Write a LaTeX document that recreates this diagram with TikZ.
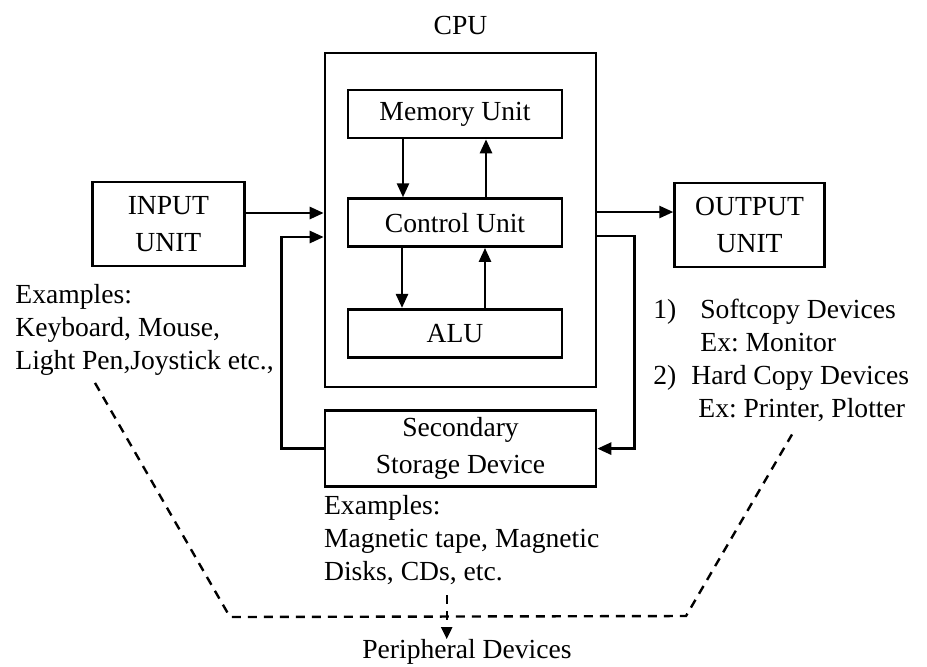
\documentclass[tikz,border=0pt]{standalone}
\usepackage{fontspec}
\setmainfont{Liberation Serif}
\usetikzlibrary{positioning,arrows.meta}
\frenchspacing

\begin{document}
\begin{tikzpicture}[
    x=0.5pt, y=-0.5pt,
    font=\fontsize{13.8}{16.5}\selectfont,
    unit/.style={draw, rectangle, line width=1.3pt, inner sep=2pt, align=center, font=\fontsize{13.8}{18.5}\selectfont},
    inner/.style={unit, minimum width=107pt, minimum height=24pt},
    txt/.style={inner sep=0pt, align=left},
    arr/.style={-{Triangle[length=7pt,width=6pt]}, line width=1.3pt},
    periline/.style={dash pattern=on 4.5pt off 3.5pt, line width=1.2pt}
]
    \useasboundingbox (0,0) rectangle (927,666);

    % CPU and its units
    \node[unit, minimum width=135.5pt, minimum height=167pt] (cpu) at (460.5,220) {};
    \node[txt, above=8.5pt of cpu] (cpulabel) {CPU};
    \node[inner] (memory) at (455,114) {Memory Unit};
    \node[inner, below=29pt of memory] (control) {Control Unit};
    \node[inner, below=30pt of control] (alu) {ALU};

    % Input, output, storage
    \node[unit, minimum width=76pt, minimum height=42pt, left=39pt of cpu, yshift=-2pt] (input) {INPUT\\UNIT};
    \node[unit, minimum width=75pt, minimum height=42pt, right=38pt of cpu, yshift=-2.5pt] (output) {OUTPUT\\UNIT};
    \node[unit, minimum width=135.5pt, minimum height=38pt, below=10.5pt of cpu] (storage) {Secondary\\Storage Device};

    % Examples
    \node[txt, anchor=north west] (inex) at (15,284) {Examples:\\Keyboard, Mouse,\\Light Pen,Joystick etc.,};
    \node[txt, anchor=north west] (storex) at ([yshift=-3.5pt]storage.south west) {Examples:\\Magnetic tape, Magnetic\\Disks, CDs, etc.};
    \node[txt, anchor=north west] (outex) at (653,299) {1)\hspace{12pt}Softcopy Devices\\\hspace*{23.5pt}Ex: Monitor\\2)\hspace{7.5pt}Hard Copy Devices\\\hspace*{22.5pt}Ex: Printer, Plotter};
    \node[txt] (peri) at (467,652) {Peripheral Devices};

    % Arrows inside CPU
    \draw[arr] ([xshift=-26pt]memory.south) -- ([xshift=-26pt]control.north);
    \draw[arr] ([xshift=15.5pt]control.north) -- ([xshift=15.5pt]memory.south);
    \draw[arr] ([xshift=-26.5pt]control.south) -- ([xshift=-26.5pt]alu.north);
    \draw[arr] ([xshift=15pt]alu.north) -- ([xshift=15pt]control.south);

    % Arrows around CPU
    \draw[arr] ([yshift=5.5pt]input.east) -- ([yshift=5.5pt]input.east -| cpu.west);
    \draw[arr] ([yshift=6.5pt]output.west -| cpu.east) -- ([yshift=6.5pt]output.west);
    \draw[arr] (storage.west) -- ++(-21pt,0) |- ([yshift=-6.5pt]input.east -| cpu.west);
    \draw[arr] ([yshift=-5.5pt]output.west -| cpu.east) -- ++(18.5pt,0) |- (storage.east);

    % Peripheral devices
    \coordinate (pl) at (230,617);
    \coordinate (pr) at (686,616);
    \draw[periline] ([xshift=40pt,yshift=-3.5pt]inex.south west) -- (pl) -- (pr) -- ([xshift=69.5pt,yshift=-6pt]outex.south west);
    \draw[periline, -{Triangle[length=6pt,width=5.5pt]}] ([xshift=61.5pt,yshift=-5pt]storex.south west) -- ([xshift=61.5pt]storex.south west |- peri.north);
\end{tikzpicture}
\end{document}
